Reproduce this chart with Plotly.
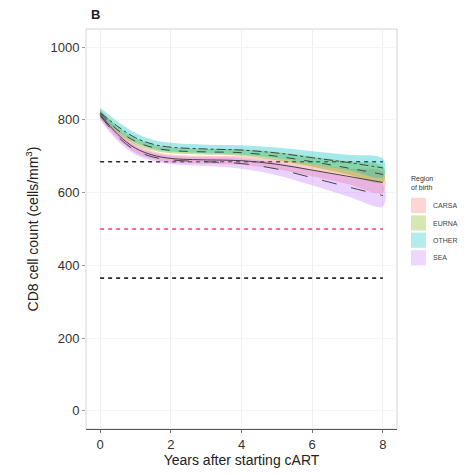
import plotly.graph_objects as go

# Years after starting cART at which the fitted curves are evaluated
years = [0, 0.5, 1, 1.5, 2, 3, 4, 5, 6, 7, 8]

regions = ["CARSA", "EURNA", "OTHER", "SEA"]

# Fitted mean CD8 count by region of birth (cells/mm^3)
carsa_mean = [815, 760, 722, 703, 694, 690, 688, 678, 662, 645, 628]
eurna_mean = [818, 772, 741, 724, 716, 712, 710, 700, 685, 668, 650]
other_mean = [820, 782, 751, 733, 725, 720, 717, 709, 696, 683, 668]
sea_mean = [812, 754, 716, 698, 690, 685, 680, 665, 641, 616, 592]

# Lower / upper confidence limits
carsa_lo = [803, 748, 710, 692, 683, 679, 676, 664, 645, 624, 600]
carsa_hi = [827, 772, 734, 714, 705, 701, 700, 692, 679, 666, 656]
eurna_lo = [808, 763, 732, 716, 708, 704, 701, 689, 671, 650, 628]
eurna_hi = [828, 781, 750, 732, 724, 720, 719, 711, 699, 686, 672]
other_lo = [806, 769, 738, 721, 713, 708, 704, 694, 678, 662, 643]
other_hi = [834, 795, 764, 745, 737, 732, 730, 724, 714, 704, 693]
sea_lo = [800, 742, 704, 687, 679, 673, 666, 648, 620, 590, 562]
sea_hi = [824, 766, 728, 709, 701, 697, 694, 682, 662, 642, 622]

# Reference levels (cells/mm^3)
ref_levels = [685, 500, 365]
ref_colors = ["#2a2a2a", "#e8427a", "#2a2a2a"]

means = [carsa_mean, eurna_mean, other_mean, sea_mean]
lows = [carsa_lo, eurna_lo, other_lo, sea_lo]
highs = [carsa_hi, eurna_hi, other_hi, sea_hi]
fills = ["rgba(248,118,109,0.35)", "rgba(124,174,0,0.38)",
         "rgba(0,191,196,0.35)", "rgba(199,124,255,0.35)"]
keys = ["rgba(248,118,109,0.3)", "rgba(124,174,0,0.3)",
        "rgba(0,191,196,0.3)", "rgba(199,124,255,0.3)"]
dashes = ["solid", "dash", "dashdot", "longdash"]

fig = go.Figure()

# reference lines
for lvl, col in zip(ref_levels, ref_colors):
    fig.add_trace(go.Scatter(
        x=[years[0], years[-1]], y=[lvl, lvl], mode="lines",
        line=dict(color=col, width=1.6, dash="4px,4px"),
        showlegend=False, hoverinfo="skip"))

# confidence ribbons
for name, lo, hi, fc in zip(regions, lows, highs, fills):
    fig.add_trace(go.Scatter(
        x=years + years[::-1], y=hi + lo[::-1], fill="toself",
        fillcolor=fc, line=dict(width=0, shape="spline"), mode="lines",
        showlegend=False, hoverinfo="skip", name=name))

# fitted curves
for name, m, d in zip(regions, means, dashes):
    fig.add_trace(go.Scatter(
        x=years, y=m, mode="lines", name=name,
        line=dict(color="#444444", width=1.0, dash=d, shape="spline"),
        showlegend=False))

# legend drawn at the right of the panel
shapes = [dict(type="rect", xref="paper", yref="paper", x0=0, x1=1, y0=0, y1=1,
               line=dict(color="#d4d4d4", width=1), layer="below")]
annotations = [
    dict(text="<b>B</b>", xref="paper", yref="paper", x=0.01, y=1.012,
         xanchor="left", yanchor="bottom", showarrow=False,
         font=dict(size=13, color="#222")),
    dict(text="Region<br>of birth", xref="paper", yref="paper", x=1.04, y=0.59,
         xanchor="left", yanchor="bottom", align="left", showarrow=False,
         font=dict(size=7, color="#333")),
]
key_top = [0.578, 0.534, 0.491, 0.447]
for name, kc, ky in zip(regions, keys, key_top):
    shapes.append(dict(type="rect", xref="paper", yref="paper",
                       x0=1.045, x1=1.093, y0=ky - 0.038, y1=ky,
                       line=dict(width=0), fillcolor=kc))
    annotations.append(dict(text=name, xref="paper", yref="paper", x=1.11,
                            y=ky - 0.019, xanchor="left", yanchor="middle",
                            showarrow=False, font=dict(size=7, color="#444")))

fig.update_layout(
    width=473, height=475,
    margin=dict(l=86, r=76, t=29, b=44),
    paper_bgcolor="white", plot_bgcolor="white",
    font=dict(family="Liberation Sans, Arial, sans-serif", color="#333"),
    shapes=shapes, annotations=annotations,
    showlegend=False,
    xaxis=dict(range=[-0.4, 8.4], tickvals=[0, 2, 4, 6, 8],
               showgrid=True, gridcolor="#efefef", gridwidth=1,
               zeroline=False, showline=True, linecolor="#555", linewidth=1,
               ticks="outside", ticklen=3, tickcolor="#777",
               tickfont=dict(size=13, color="#333"),
               title=dict(text="Years after starting cART", standoff=2,
                          font=dict(size=14, color="#222"))),
    yaxis=dict(range=[-50, 1050], tickvals=[0, 200, 400, 600, 800, 1000],
               showgrid=True, gridcolor="#f5f5f5", gridwidth=1,
               zeroline=False, showline=False,
               ticks="outside", ticklen=3, tickcolor="#999",
               tickfont=dict(size=13, color="#333"),
               title=dict(text="CD8 cell count (cells/mm<sup>3</sup>)", standoff=8,
                          font=dict(size=14, color="#222"))),
)

fig.write_html("out.html")
